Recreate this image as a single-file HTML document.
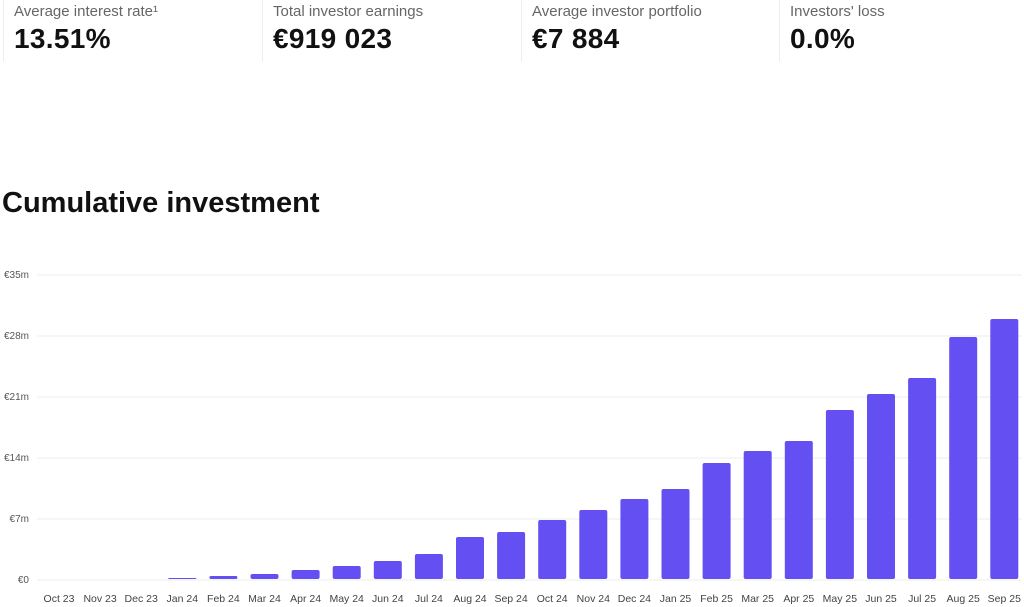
<!DOCTYPE html>
<html><head><style>
body{margin:0;width:1024px;height:607px;background:#fff;font-family:"Liberation Sans",sans-serif;position:relative;overflow:hidden}
.card{position:absolute;top:0;height:62px;border-left:1px solid #eeeeee}
.card .l{position:absolute;left:10px;top:3px;font-size:15px;color:#666}
.card .v{position:absolute;left:10px;top:23px;font-size:28px;font-weight:bold;color:#111;letter-spacing:0.3px}
h1{position:absolute;left:2px;top:187px;margin:0;font-size:29px;font-weight:bold;color:#111;letter-spacing:0}
</style></head><body>
<div class="card" style="left:3px;width:258px"><div class="l">Average interest rate¹</div><div class="v">13.51%</div></div>
<div class="card" style="left:262px;width:258px"><div class="l">Total investor earnings</div><div class="v">€919 023</div></div>
<div class="card" style="left:521px;width:258px"><div class="l">Average investor portfolio</div><div class="v">€7 884</div></div>
<div class="card" style="left:779px;width:245px"><div class="l">Investors' loss</div><div class="v">0.0%</div></div>
<h1>Cumulative investment</h1>
<svg width="1024" height="607" style="position:absolute;left:0;top:0" font-family="Liberation Sans, sans-serif">
<g stroke="#ececec" stroke-width="1">
<line x1="37" x2="1022" y1="275" y2="275"/><line x1="37" x2="1022" y1="336" y2="336"/>
<line x1="37" x2="1022" y1="397" y2="397"/><line x1="37" x2="1022" y1="458" y2="458"/>
<line x1="37" x2="1022" y1="519" y2="519"/><line x1="37" x2="1022" y1="580" y2="580"/>
</g>
<g font-size="10" fill="#555" text-anchor="end">
<text x="29" y="278">€35m</text><text x="29" y="339">€28m</text><text x="29" y="400">€21m</text>
<text x="29" y="461">€14m</text><text x="29" y="522">€7m</text><text x="29" y="583">€0</text>
</g>
<g id="bars" fill="#6450f2"></g>
<g id="lbl" font-size="10.5" fill="#444" text-anchor="middle"></g>
</svg>
<script>
var tops=[580,579.5,579,578,576,574,570,566,561,554,537,532,520,510,499,489,463,451,441,410,394,378,337,319];
var names=["Oct 23","Nov 23","Dec 23","Jan 24","Feb 24","Mar 24","Apr 24","May 24","Jun 24","Jul 24","Aug 24","Sep 24","Oct 24","Nov 24","Dec 24","Jan 25","Feb 25","Mar 25","Apr 25","May 25","Jun 25","Jul 25","Aug 25","Sep 25"];
var b=document.getElementById('bars'),l=document.getElementById('lbl'),ns="http://www.w3.org/2000/svg";
for(var i=0;i<24;i++){var x=45+i*41.1;var h=579-tops[i];
if(h>0){var r=document.createElementNS(ns,'rect');r.setAttribute('x',x);r.setAttribute('y',tops[i]);r.setAttribute('width',28);r.setAttribute('height',h);r.setAttribute('rx',Math.min(2,h/2));b.appendChild(r);}
var t=document.createElementNS(ns,'text');t.setAttribute('x',x+14);t.setAttribute('y',602);t.textContent=names[i];l.appendChild(t);}
</script>
</body></html>
